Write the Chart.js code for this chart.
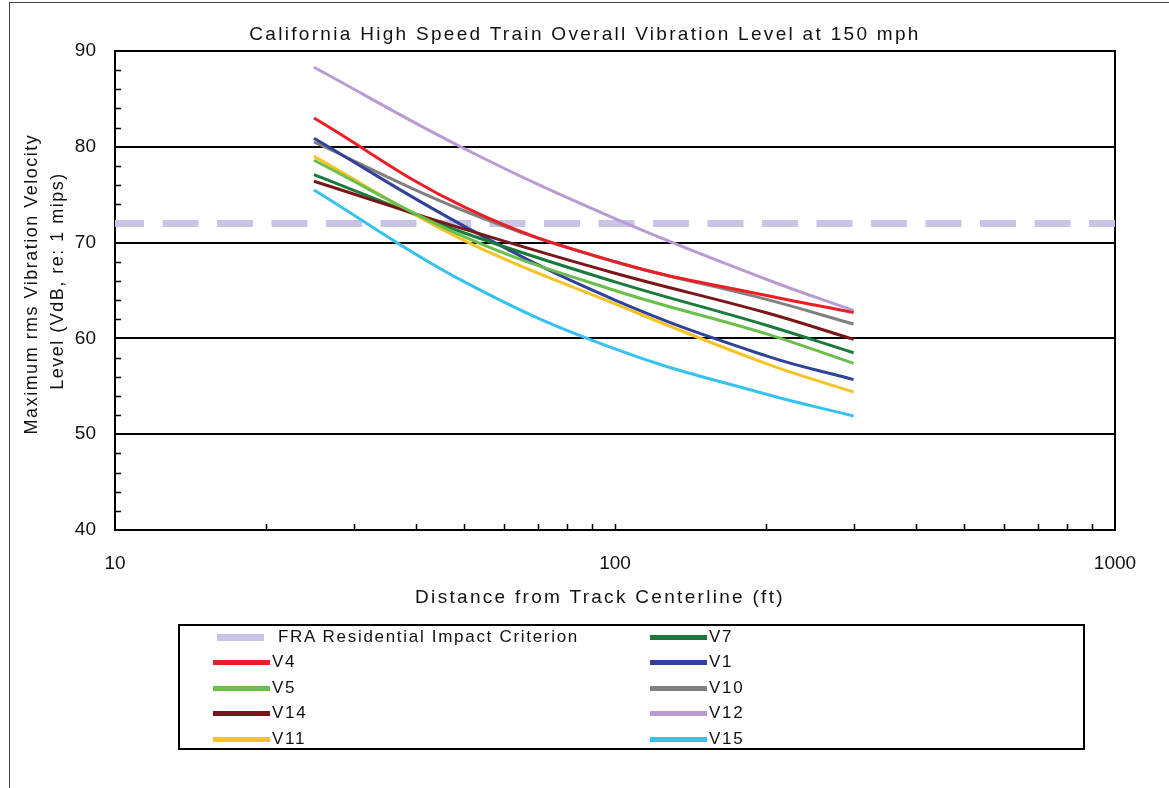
<!DOCTYPE html>
<html>
<head>
<meta charset="utf-8">
<script src="https://cdn.jsdelivr.net/npm/chart.js@4.4.1/dist/chart.umd.min.js"></script>
<style>
body{margin:0;background:#fff;font-family:"Liberation Sans",Arial,sans-serif;}
#wrap{position:relative;width:1169px;height:788px;overflow:hidden;}
#frame{position:absolute;left:9px;top:2px;width:1200px;height:900px;border-left:1.5px solid #444;border-top:1.5px solid #444;}
canvas{position:absolute;left:0;top:0;}
.txt{position:absolute;white-space:nowrap;color:#111;transform:translate(-50%,-50%);}
#legend{position:absolute;left:178px;top:624px;width:903px;height:122px;border:2px solid #000;}
.lg{position:absolute;height:0;}
.lt{position:absolute;font-size:17px;letter-spacing:1.7px;color:#111;transform:translateY(-50%);white-space:nowrap;}
</style>
</head>
<body>
<div id="wrap">
<div id="frame"></div>
<canvas id="c" width="1169" height="788"></canvas>
<div class="txt" style="left:585px;top:34px;font-size:19px;letter-spacing:2.3px;">California High Speed Train Overall Vibration Level at 150 mph</div>
<div class="txt" style="left:600px;top:597px;font-size:19px;letter-spacing:2.3px;">Distance from Track Centerline (ft)</div>
<div class="txt" style="left:31px;top:284px;font-size:18px;letter-spacing:1.5px;transform:translate(-50%,-50%) rotate(-90deg);">Maximum rms Vibration Velocity</div>
<div class="txt" style="left:57px;top:281px;font-size:18px;letter-spacing:1.5px;transform:translate(-50%,-50%) rotate(-90deg);">Level (VdB, re: 1 mips)</div>
<div id="legend"></div>
</div>
<script>
const distances=[25,50,100,200,300];
const seriesNames=['V4','V5','V14','V11','V7','V1','V10','V12','V15'];
const seriesColors=['#ee1d25','#6abf4b','#7a1518','#f5c325','#1a7a3d','#2f4198','#808080','#b99bd2','#36c1ee'];
const V4 =[83.0,73.7,68.0,64.5,62.7];
const V5 =[78.6,70.6,65.0,60.5,57.4];
const V14=[76.4,71.4,66.8,62.7,59.9];
const V11=[79.0,70.2,63.6,57.4,54.4];
const V7 =[77.1,71.0,65.9,61.4,58.5];
const V1 =[80.9,71.7,64.0,58.2,55.7];
const V10=[80.5,73.3,68.0,64.1,61.5];
const V12=[88.3,79.8,72.5,66.2,62.9];
const V15=[75.5,65.9,58.9,54.2,51.9];
const seriesValues=[V4,V5,V14,V11,V7,V1,V10,V12,V15];
// FRA residential criterion
const fraName='FRA Residential Impact Criterion';
const fraLevel=72;
const fraRange=[10,1000];
const yTicks=[40,50,60,70,80,90];
const xTickLabels=[10,100,1000];

const datasets=seriesNames.map((n,i)=>({
  label:n,
  data:distances.map((d,j)=>({x:d,y:seriesValues[i][j]})),
  borderColor:seriesColors[i],
  borderWidth:3,
  pointRadius:0,
  tension:0.4,
  fill:false,
  order:0
}));
datasets.push({
  label:fraName,
  data:fraRange.map(d=>({x:d,y:fraLevel})),
  borderColor:'#c9c4e6',
  borderWidth:7,
  borderDash:[36,18.5],
  borderDashOffset:7,
  borderCapStyle:'butt',
  pointRadius:0,
  order:1
});

const framePlugin={
  id:'frame',
  beforeDatasetsDraw(chart){
    const a=chart.chartArea,ctx=chart.ctx;
    const xs=chart.scales.x,ys=chart.scales.y;
    ctx.save();
    ctx.strokeStyle='#000';
    ctx.lineWidth=1.5;
    ctx.beginPath();
    for(let v=42;v<90;v+=2){
      if(v%10===0)continue;
      const y=Math.round(ys.getPixelForValue(v))+0.5;
      ctx.moveTo(a.left,y);ctx.lineTo(a.left+6,y);
    }
    [20,30,40,50,60,70,80,90,100,200,300,400,500,600,700,800,900].forEach(v=>{
      const x=Math.round(xs.getPixelForValue(v))+0.5;
      ctx.moveTo(x,a.bottom);ctx.lineTo(x,a.bottom-6);
    });
    ctx.stroke();
    ctx.lineWidth=2;
    ctx.strokeRect(a.left,a.top,a.right-a.left,a.bottom-a.top);
    ctx.restore();
  }
};

new Chart(document.getElementById('c'),{
  type:'line',
  data:{datasets:datasets},
  options:{
    responsive:false,
    animation:false,
    layout:{padding:{left:0,right:54,top:51,bottom:188}},
    plugins:{legend:{display:false},title:{display:false},tooltip:{enabled:false}},
    scales:{
      x:{
        type:'logarithmic',min:10,max:1000,
        afterFit(s){s.height=70;},
        grid:{display:false,drawTicks:false},
        border:{display:false},
        ticks:{autoSkip:false,maxRotation:0,padding:22,color:'#111',
          font:{family:'Liberation Sans',size:19},
          callback:v=>xTickLabels.includes(v)?String(v):''}
      },
      y:{
        min:40,max:90,
        afterFit(s){s.width=115;},
        afterBuildTicks(s){s.ticks=yTicks.map(v=>({value:v}));},
        grid:{drawTicks:false,color:'#000',lineWidth:2},
        border:{display:false},
        ticks:{padding:19,color:'#111',font:{family:'Liberation Sans',size:19}}
      }
    }
  },
  plugins:[framePlugin]
});

// legend boxes, two columns of five rows
const lg=document.getElementById('legend');
const rowsY=[11,36,62,87,113];
const items=[{name:fraName,color:'#c9c4e6',w:7,fra:true}].concat(seriesNames.map((n,i)=>({name:n,color:seriesColors[i],w:5})));
const order=['FRA','V4','V5','V14','V11','V7','V1','V10','V12','V15'];
order.forEach((key,k)=>{
  const it=items.find(o=>o.fra?key==='FRA':o.name===key);
  const col=k<5?0:1,row=k%5;
  const x0=col===0?(it.fra?37:33):470;
  const len=it.fra?47:57;
  const line=document.createElement('div');
  line.className='lg';
  line.style.cssText=`left:${x0}px;top:${rowsY[row]-it.w/2}px;width:${len}px;height:${it.w}px;background:${it.color};`;
  lg.appendChild(line);
  const t=document.createElement('div');
  t.className='lt';
  t.textContent=it.name;
  t.style.left=(it.fra?98:x0+len+2)+'px';
  t.style.top=rowsY[row]+'px';
  lg.appendChild(t);
});
</script>
</body>
</html>
